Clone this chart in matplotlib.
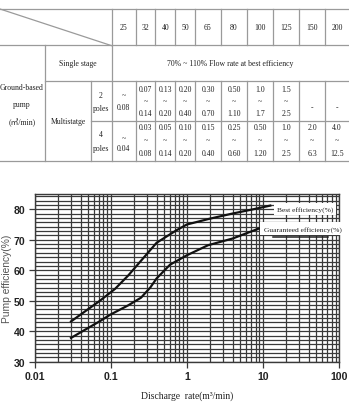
import numpy as np
import matplotlib
matplotlib.use("Agg")
import matplotlib.pyplot as plt
from matplotlib.ticker import AutoMinorLocator, LogLocator, NullFormatter

# ---- table data ----
sizes = ["25", "32", "40", "50", "65", "80", "100", "125", "150", "200"]
two_pole_lo = ["", "0.07", "0.13", "0.20", "0.30", "0.50", "1.0", "1.5", "", ""]
two_pole_hi = ["0.08", "0.14", "0.20", "0.40", "0.70", "1.10", "1.7", "2.5", "-", "-"]
four_pole_lo = ["", "0.03", "0.05", "0.10", "0.15", "0.25", "0.50", "1.0", "2.0", "4.0"]
four_pole_hi = ["0.04", "0.08", "0.14", "0.20", "0.40", "0.60", "1.20", "2.5", "6.3", "12.5"]
single_stage = "70% ~ 110% Flow rate at best efficiency"

# ---- curve data ----
best_x = [0.03, 0.072, 0.114, 0.17, 0.3, 0.4, 0.73, 1.0, 2.0, 4.0, 7.5, 12.5]
best_y = [43.2, 50.0, 53.9, 58.3, 65.4, 69.0, 73.1, 75.0, 76.9, 78.6, 80.0, 81.2]
guar_x = [0.03, 0.072, 0.098, 0.17, 0.25, 0.33, 0.4, 0.6, 1.0, 1.9, 4.0, 8.7, 12.5]
guar_y = [37.8, 43.3, 45.4, 48.5, 51.0, 54.3, 57.3, 61.8, 64.9, 68.2, 70.4, 73.6, 74.6]

serif = ["Liberation Serif", "Noto Sans CJK SC", "DejaVu Sans"]
sans = ["Liberation Sans", "DejaVu Sans"]

fig = plt.figure(figsize=(3.49, 4.06), dpi=100)

# table drawn in pixel space
tb = fig.add_axes([0, 0, 1, 1])
tb.set_xlim(0, 349)
tb.set_ylim(406, 0)
tb.axis("off")

col_edges = [111.7, 136, 155.3, 175.3, 195, 221, 247, 273.3, 299.3, 325, 349]
y_top, y_head, y_single, y_mid, y_bot = 10, 45.7, 81.7, 121.7, 161.7
lc = "#9a9a9a"
lw = 0.9

def hline(y, x0, x1):
    tb.plot([x0, x1], [y, y], color=lc, lw=lw)

def vline(x, y0, y1):
    tb.plot([x, x], [y0, y1], color=lc, lw=lw)

hline(y_top, 0, 349)
hline(y_head, 0, 349)
hline(y_single, 45, 349)
hline(y_mid, 91, 349)
hline(y_bot, 0, 349)
tb.plot([0, col_edges[0]], [y_top, y_head + 1], color=lc, lw=lw)
vline(45, y_head, y_bot)
vline(91, y_single, y_bot)
vline(col_edges[0], y_top, y_bot)
for x in col_edges[1:-1]:
    vline(x, y_top, y_head)
    vline(x, y_single, y_bot)

tfs = 5.6
kw = dict(ha="center", va="center", fontsize=tfs, family=serif, color="#222222")
centers = [(a + b) / 2 for a, b in zip(col_edges[:-1], col_edges[1:])]
for cx, s in zip(centers, sizes):
    tb.text(cx, 27.5, s, **kw)
tb.text(78, 64, "Single stage", **kw)
tb.text((col_edges[0] + col_edges[-1]) / 2, 64, single_stage, **kw)
tb.text(22, 88, "Ground-based", **kw)
tb.text(22, 105, "pump", **kw)
tb.text(22, 123, "(㎥/min)", **kw)
tb.text(68, 122.5, "Multistatge", **kw)
tb.text(101, 96, "2", **kw)
tb.text(101, 109, "poles", **kw)
tb.text(101, 135, "4", **kw)
tb.text(101, 149, "poles", **kw)

for i, cx in enumerate(centers):
    lo, hi = two_pole_lo[i], two_pole_hi[i]
    if i == 0:
        tb.text(cx, 96, "~", **kw)
        tb.text(cx, 108, hi, **kw)
    elif lo == "":
        tb.text(cx, 108, hi, **kw)
    else:
        tb.text(cx, 89.5, lo, **kw)
        tb.text(cx, 102.5, "~", **kw)
        tb.text(cx, 114.5, hi, **kw)
    lo, hi = four_pole_lo[i], four_pole_hi[i]
    if i == 0:
        tb.text(cx, 139, "~", **kw)
        tb.text(cx, 149.5, hi, **kw)
    else:
        tb.text(cx, 128.5, lo, **kw)
        tb.text(cx, 141.5, "~", **kw)
        tb.text(cx, 154.5, hi, **kw)

# ---- chart ----
ax = fig.add_axes([34.7 / 349, 1 - 362.7 / 406, (339 - 34.7) / 349, (362.7 - 195) / 406])
ax.set_xscale("log")
ax.set_xlim(0.01, 100)
ax.set_ylim(30, 85)
ax.set_yticks([30, 40, 50, 60, 70, 80])
ax.yaxis.set_minor_locator(AutoMinorLocator(7))
ax.xaxis.set_minor_locator(LogLocator(base=10, subs=np.arange(2, 10)))
ax.xaxis.set_minor_formatter(NullFormatter())
ax.set_xticks([0.01, 0.1, 1, 10, 100])
ax.set_xticklabels(["0.01", "0.1", "1", "10", "100"])
gc = "#3a3a3a"
ax.grid(True, which="both", axis="both", color=gc, lw=0.9)
ax.tick_params(axis="both", which="major", direction="out", length=4, width=0.9,
               color=gc, labelsize=7.6, labelcolor="#222222", pad=2.5)
ax.tick_params(axis="y", which="minor", direction="in", length=2.5, color=gc)
ax.tick_params(axis="x", which="minor", length=0)
for lab in ax.get_xticklabels() + ax.get_yticklabels():
    lab.set_family(sans)
    lab.set_fontweight("bold")
for sp in ax.spines.values():
    sp.set_color(gc)
    sp.set_linewidth(1.0)

ax.plot(best_x, best_y, color="#111111", lw=1.6, zorder=3)
ax.plot(guar_x, guar_y, color="#111111", lw=1.6, zorder=3)

ax.text(0.796, 0.913, "Best efficiency(%)", transform=ax.transAxes, ha="left", va="center",
        fontsize=5.4, family=serif, color="#222222", zorder=5,
        bbox=dict(facecolor="white", edgecolor="none", pad=2.2))
ax.text(0.752, 0.794, "Guaranteed efficiency(%)", transform=ax.transAxes, ha="left", va="center",
        fontsize=5.4, family=serif, color="#222222", zorder=5,
        bbox=dict(facecolor="white", edgecolor="none", pad=2.2))
ax.plot([0.783, 0.964], [0.745, 0.745], transform=ax.transAxes, color="#222222", lw=1.1, zorder=6)

ax.set_ylabel("Pump efficiency(%)", family=sans, fontsize=7.4, color="#555555")
ax.yaxis.set_label_coords(-0.073, 0.5)
ax.set_xlabel("Discharge  rate(m³/min)", family=serif, fontsize=6.9, color="#222222", labelpad=7)

fig.savefig("out.png", dpi=100)
